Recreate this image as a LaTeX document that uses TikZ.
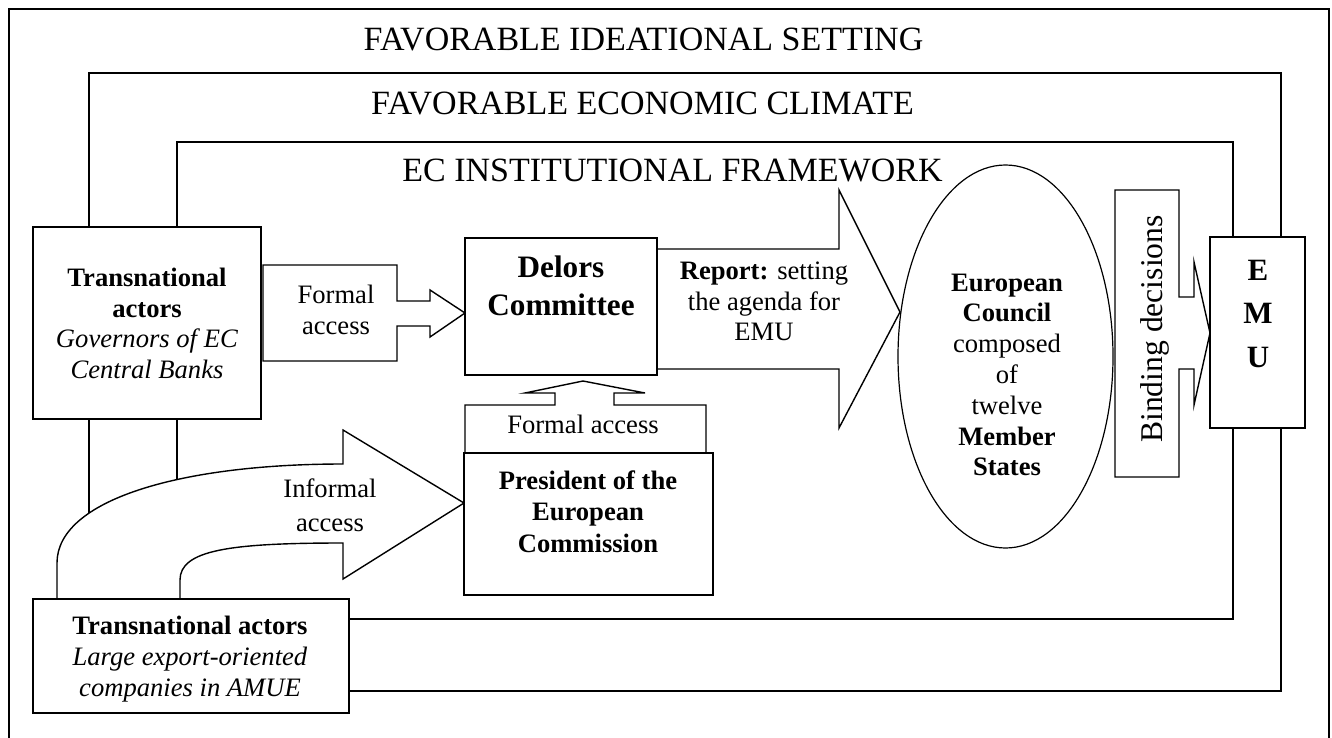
\documentclass[tikz,border=0pt]{standalone}
\usepackage{fontspec}
\setmainfont{Liberation Serif}
\usetikzlibrary{shapes.geometric}
\newcommand{\bodyfont}{\fontsize{13.3}{15.4}\selectfont}
\newcommand{\titlefont}{\fontsize{17}{20}\selectfont}

\begin{document}
\begin{tikzpicture}[
            x = 0.5pt, y = -0.5pt,
            frame/.style = {draw, line width = 0.9pt},
            box/.style = {draw, fill = white, line width = 0.9pt, inner sep = 0pt},
            blk/.style = {draw, fill = white, line width = 0.7pt, line join = miter},
            txt/.style = {align = center, inner sep = 0pt, font = \bodyfont},
            title/.style = {inner sep = 0pt, font = \titlefont}
        ]
        \useasboundingbox (0,0) rectangle (1332,738);
        \draw[frame] (9,745) -- (9,9) -- (1329,9) -- (1329,745);
        \draw[frame] (89,73) rectangle (1281,691);
        \draw[frame] (177,142) rectangle (1233,619);
        \node[title] (T1) at (643.5,40) {FAVORABLE IDEATIONAL SETTING};
        \node[title] (T2) at (642.5,103.5) {FAVORABLE ECONOMIC CLIMATE};
        \node[title] (T3) at (672.5,170.5) {EC INSTITUTIONAL FRAMEWORK};

        \draw[blk] (263,265) -- (397,265) -- (397,301) -- (430,301) -- (430,290) -- (465,313)
            -- (430,337) -- (430,326) -- (397,326) -- (397,361) -- (263,361) -- cycle;
        \draw[blk] (600,249) -- (839,249) -- (839,190) -- (900,312) -- (839,428) -- (839,369)
            -- (600,369) -- cycle;
        \draw[blk] (465,453) -- (465,405) -- (555,405) -- (555,393) -- (525,393) -- (583,381)
            -- (645,393) -- (614,393) -- (614,405) -- (706,405) -- (706,453) -- cycle;
        \draw[blk] (57,599) -- (57,563) .. controls (57,500) and (180,464) .. (343,464)
            -- (343,430) -- (464,503) -- (343,579) -- (343,543)
            .. controls (230,543) and (180,550) .. (180,580) -- (180,599) -- cycle;
        \draw[blk] (1115,190) -- (1179,190) -- (1179,297) -- (1194,297) -- (1194,262) -- (1210,333)
            -- (1194,405) -- (1194,369) -- (1179,369) -- (1179,477) -- (1115,477) -- cycle;

        \node[box, minimum width = 114pt, minimum height = 96pt] (A1) at (147,323) {};
        \node[box, minimum width = 158pt, minimum height = 57pt] (A2) at (191,656) {};
        \node[box, minimum width = 96pt, minimum height = 68.5pt] (B1) at (561,306.5) {};
        \node[box, minimum width = 124.5pt, minimum height = 71pt] (B2) at (588.5,524) {};
        \node[box, ellipse, fill = none, line width = 0.6pt, minimum width = 107.5pt, minimum height = 191.5pt] (C1) at (1005.5,356.5) {};
        \node[box, minimum width = 47.5pt, minimum height = 95.5pt] (D1) at (1257.5,332.5) {};

        \node[txt] (A1t) at (147,323.5) {\textbf{Transnational}\\\textbf{actors}\\\textit{Governors of EC}\\\textit{Central Banks}};
        \node[txt] (A2t) at (190,659) {\textbf{Transnational actors}\\\textit{Large export-oriented}\\\textit{companies in AMUE}};
        \node[txt] (A1a) at (336,310) {Formal\\access};
        \node[txt, font = \fontsize{13.3}{17}\selectfont] (A2a) at (330,505) {Informal\\access};
        \node[txt, font = \fontsize{15.6}{19}\selectfont\bfseries] (B1t) at (561,286) {Delors\\Committee};
        \node[txt] (B1a) at (764,301.5) {\textbf{Report:} setting\\the agenda for\\EMU};
        \node[txt] (B2a) at (583,424) {Formal access};
        \node[txt, font = \fontsize{13.3}{15.7}\selectfont\bfseries] (B2t) at (588,511.5) {President of the\\European\\Commission};
        \node[txt] (C1t) at (1007,375) {\textbf{European}\\\textbf{Council}\\composed\\of\\twelve\\\textbf{Member}\\\textbf{States}};
        \node[txt, rotate = 90, font = \fontsize{15.8}{18}\selectfont] (C1a) at (1155,329) {Binding decisions};
        \node[txt, font = \fontsize{15.5}{21.75}\selectfont\bfseries] (D1t) at (1258,313.5) {E\\M\\U};
    \end{tikzpicture}
\end{document}
